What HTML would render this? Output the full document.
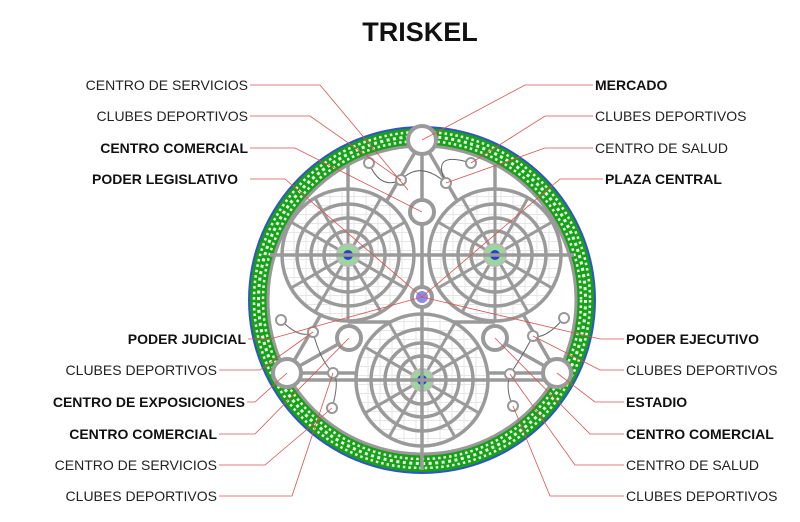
<!DOCTYPE html>
<html><head><meta charset="utf-8"><style>
body{margin:0;background:#fff;width:800px;height:522px;overflow:hidden}
svg{display:block}
text{font-family:"Liberation Sans",sans-serif;font-size:14px;fill:#222}
.b{font-weight:bold;fill:#111}
</style></head><body>
<svg width="800" height="522" viewBox="0 0 800 522">
<defs>
<pattern id="hatch" width="12" height="9" patternUnits="userSpaceOnUse">
<rect width="12" height="9" fill="#fff"/><path d="M0 4.5H12M6 0V9" stroke="#e6e6e6" stroke-width="1"/>
</pattern>
<g id="flower">
<circle r="66" fill="url(#hatch)" stroke="#9a9a9a" stroke-width="3.5"/>
<circle r="51" fill="none" stroke="#9a9a9a" stroke-width="3.5"/>
<circle r="37" fill="none" stroke="#9a9a9a" stroke-width="3.5"/>
<circle r="24" fill="none" stroke="#9a9a9a" stroke-width="3.5"/>
<g stroke="#9a9a9a" stroke-width="3">
<line x1="-66" y1="0" x2="66" y2="0"/><line x1="0" y1="-66" x2="0" y2="66"/>
<line x1="-57" y1="-33" x2="57" y2="33"/><line x1="-57" y1="33" x2="57" y2="-33"/>
<line x1="-33" y1="-57" x2="33" y2="57"/><line x1="-33" y1="57" x2="33" y2="-57"/>
</g>
<circle r="11" fill="#9ad89a" stroke="#bbb" stroke-width="2"/>
<circle r="5" fill="#2a3fd6"/>
</g>
</defs>
<text x="420" y="41" text-anchor="middle" style="font-size:27px;font-weight:bold;fill:#111">TRISKEL</text>

<circle cx="422" cy="300" r="174" fill="#2f55c8"/>
<circle cx="422" cy="300" r="172" fill="#18a018"/>
<circle cx="422" cy="300" r="168" fill="none" stroke="#e8ffe8" stroke-width="2.5" stroke-dasharray="2.5 3"/>
<circle cx="422" cy="300" r="163.5" fill="none" stroke="#e8ffe8" stroke-width="3" stroke-dasharray="3 3.5"/>
<circle cx="422" cy="300" r="159" fill="none" stroke="#e8ffe8" stroke-width="2.5" stroke-dasharray="2.5 3"/>
<circle cx="422" cy="300" r="154" fill="#fff" stroke="#999" stroke-width="3"/>

<g stroke="#9a9a9a" stroke-width="3.5" fill="none">
<line x1="422" y1="140" x2="287" y2="373"/>
<line x1="422" y1="140" x2="557" y2="373"/>
<line x1="287" y1="373" x2="557" y2="373"/>
<line x1="422" y1="140" x2="422" y2="212"/>
<line x1="348" y1="165" x2="348" y2="322"/>
<line x1="495" y1="165" x2="495" y2="322"/>
<line x1="287" y1="373" x2="349" y2="338"/>
<line x1="557" y1="373" x2="495" y2="338"/>
<line x1="348" y1="322" x2="422" y2="322"/>
<line x1="495" y1="322" x2="422" y2="322"/>
</g>
<use href="#flower" x="348" y="255"/>
<use href="#flower" x="495" y="255"/>
<use href="#flower" x="422" y="380"/>
<g stroke="#9a9a9a" stroke-width="3.5">
<line x1="270" y1="255" x2="574" y2="255"/>
<line x1="422" y1="212" x2="422" y2="470"/>
<line x1="287" y1="380" x2="557" y2="380"/>
</g>
<g stroke="#666" stroke-width="1" fill="none">
<path d="M369 163 Q380 190 401 180"/><path d="M446 183 Q430 150 471 163"/>
<path d="M401 180 Q420 160 446 183"/><path d="M281 320 Q300 340 313 332"/>
<path d="M313 332 Q320 360 333 373"/><path d="M332 408 Q340 380 333 373"/>
<path d="M564 318 Q545 340 533 336"/><path d="M533 336 Q520 360 510 374"/><path d="M513 406 Q505 390 510 374"/>
</g>
<g fill="#fff" stroke="#999" stroke-width="2">
<circle cx="369" cy="163" r="5"/><circle cx="401" cy="180" r="5"/><circle cx="446" cy="183" r="5"/><circle cx="471" cy="163" r="5"/>
<circle cx="281" cy="320" r="5"/><circle cx="313" cy="332" r="5"/><circle cx="333" cy="373" r="5"/><circle cx="332" cy="408" r="5"/>
<circle cx="564" cy="318" r="5"/><circle cx="533" cy="336" r="5"/><circle cx="510" cy="374" r="5"/><circle cx="513" cy="406" r="5"/>
</g>
<g fill="#fff" stroke="#9a9a9a" stroke-width="4">
<circle cx="422" cy="140" r="14"/><circle cx="422" cy="212" r="12"/>
<circle cx="349" cy="338" r="12"/><circle cx="495" cy="338" r="12"/>
<circle cx="287" cy="373" r="14"/><circle cx="557" cy="373" r="14"/>
<circle cx="422" cy="297" r="10"/>
</g>
<circle cx="422" cy="297" r="6" fill="#8a8cf0"/>

<g stroke="#d9534f" stroke-width="0.8" fill="none">
<path d="M250 85H320L408 190"/>
<path d="M250 116H310L401 180"/>
<path d="M250 148H295L422 212"/>
<path d="M250 179H285L422 297"/>
<path d="M248 339H270L422 297"/>
<path d="M219 370H260L313 332"/>
<path d="M247 402H255L287 373"/>
<path d="M219 434H255L349 338"/>
<path d="M219 465H265L332 408"/>
<path d="M219 496H292L333 373"/>
<path d="M593 85H525L422 140"/>
<path d="M593 116H545L471 163"/>
<path d="M593 148H545L446 183"/>
<path d="M603 179H560L422 297"/>
<path d="M624 339H600L422 297"/>
<path d="M624 370H600L533 336"/>
<path d="M624 402H595L557 373"/>
<path d="M624 434H590L495 338"/>
<path d="M624 465H575L510 374"/>
<path d="M624 496H550L513 406"/>
</g>

<g text-anchor="end">
<text x="248" y="90">CENTRO DE SERVICIOS</text>
<text x="248" y="121">CLUBES DEPORTIVOS</text>
<text x="248" y="153" class="b">CENTRO COMERCIAL</text>
<text x="238" y="184" class="b">PODER LEGISLATIVO</text>
<text x="246" y="344" class="b">PODER JUDICIAL</text>
<text x="217" y="375">CLUBES DEPORTIVOS</text>
<text x="245" y="407" class="b">CENTRO DE EXPOSICIONES</text>
<text x="217" y="439" class="b">CENTRO COMERCIAL</text>
<text x="217" y="470">CENTRO DE SERVICIOS</text>
<text x="217" y="501">CLUBES DEPORTIVOS</text>
</g>
<text x="595" y="90" class="b">MERCADO</text>
<text x="595" y="121">CLUBES DEPORTIVOS</text>
<text x="595" y="153">CENTRO DE SALUD</text>
<text x="605" y="184" class="b">PLAZA CENTRAL</text>
<text x="626" y="344" class="b">PODER EJECUTIVO</text>
<text x="626" y="375">CLUBES DEPORTIVOS</text>
<text x="626" y="407" class="b">ESTADIO</text>
<text x="626" y="439" class="b">CENTRO COMERCIAL</text>
<text x="626" y="470">CENTRO DE SALUD</text>
<text x="626" y="501">CLUBES DEPORTIVOS</text>
</svg>
</body></html>
